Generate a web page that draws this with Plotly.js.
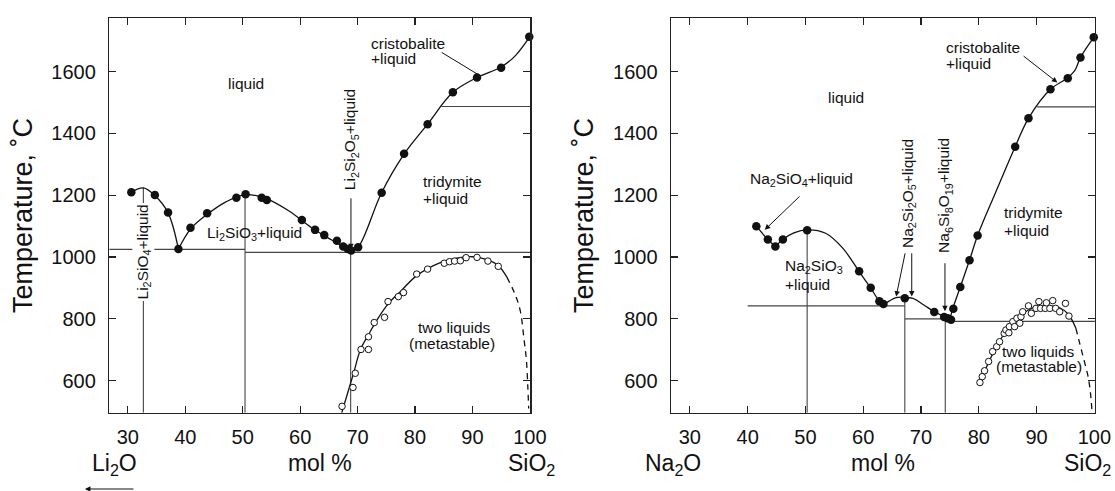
<!DOCTYPE html>
<html><head><meta charset="utf-8">
<script src="https://cdn.plot.ly/plotly-3.0.1.min.js"></script>
<style>html,body{margin:0;padding:0;background:#fff}#chart{width:1115px;height:491px}</style>
</head><body><div id="chart"></div>
<script>
// ---------- tick values ----------
const xTicks = [30, 40, 50, 60, 70, 80, 90, 100];
const yTicks = [600, 800, 1000, 1200, 1400, 1600];

// ---------- Li2O-SiO2 (left) ----------
const liLiqA_x = [30.6, 32.7, 34.7, 37.0, 38.8];
const liLiqA_y = [1210, 1224, 1199, 1143, 1026];
const liLiqB_x = [38.8, 41.0, 44.0, 47.0, 50.4, 54.0, 58.0, 62.0, 65.5, 68.8];
const liLiqB_y = [1026, 1093, 1141, 1178, 1202, 1190, 1150, 1095, 1055, 1020];
const liLiqC_x = [68.8, 70.1, 74.2, 78.1, 82.2, 86.6, 90.8, 95.0, 97.5, 100.0];
const liLiqC_y = [1020, 1032, 1209, 1333, 1430, 1533, 1581, 1615, 1652, 1713];
const liPts_x = [30.6, 34.7, 37.0, 38.8, 40.9, 43.8, 48.9, 50.5, 53.3, 54.2, 60.3, 62.6, 64.2, 66.4, 67.5, 68.3, 68.9, 70.1, 74.2, 78.1, 82.2, 86.6, 90.8, 95.0, 99.9];
const liPts_y = [1210, 1201, 1144, 1026, 1095, 1142, 1192, 1203, 1192, 1185, 1120, 1088, 1071, 1053, 1034, 1026, 1021, 1032, 1208, 1334, 1430, 1533, 1581, 1613, 1713];
const liImm_x = [67.3, 69.2, 69.6, 70.6, 71.9, 71.9, 72.9, 74.7, 75.3, 77.1, 78.0, 80.3, 82.2, 85.1, 86.0, 86.9, 87.9, 88.9, 90.8, 92.7, 94.5];
const liImm_y = [517, 578, 624, 701, 701, 742, 788, 805, 856, 872, 885, 945, 961, 980, 985, 987, 988, 998, 999, 987, 970];
const liDome_x = [67.25, 69.3, 70.5, 72.0, 73.5, 75.4, 77.7, 80.3, 84.4, 87.0, 90.0, 92.5, 94.5, 96.0];
const liDome_y = [496, 624, 700, 752, 800, 850, 893, 940, 982, 996, 1001, 992, 973, 935];
const liDomeDash_x = [96.0, 97.3, 98.3, 99.0, 99.4, 99.65, 99.8];
const liDomeDash_y = [935, 885, 829, 732, 667, 580, 510];
const liHor_x1 = [26.76, 50.4, 84.6];
const liHor_x2 = [50.4, 100.1, 100.1];
const liHor_y = [1025, 1015, 1487];
const liVer_x = [32.7, 50.4, 68.8];
const liVer_y1 = [496, 496, 496];
const liVer_y2 = [1224, 1203, 1020];

// ---------- Na2O-SiO2 (right) ----------
const naLiqA_x = [41.5, 43.5, 44.8];
const naLiqA_y = [1100, 1057, 1034];
const naLiqB_x = [44.8, 46.1, 48.0, 50.3, 53.5, 56.5, 59.3, 61.3, 62.8, 63.7];
const naLiqB_y = [1034, 1057, 1078, 1088, 1077, 1028, 953, 900, 858, 848];
const naLiqC_x = [63.7, 65.7, 67.2, 68.6, 70.5, 72.3, 74.2, 75.0];
const naLiqC_y = [848, 869, 870, 866, 845, 823, 806, 798];
const naLiqD_x = [75.0, 75.5, 76.8, 78.4, 79.8, 83.0, 86.3, 88.6, 92.4, 95.2, 96.6, 97.6, 99.9];
const naLiqD_y = [798, 833, 903, 990, 1070, 1213, 1357, 1449, 1543, 1578, 1603, 1646, 1711];
const naPts_x = [41.5, 43.5, 44.8, 46.1, 50.3, 59.3, 61.3, 62.8, 63.5, 67.2, 72.3, 74.0, 74.6, 75.2, 75.6, 76.8, 78.4, 79.8, 86.3, 88.6, 92.4, 95.4, 97.6, 99.9];
const naPts_y = [1100, 1057, 1034, 1057, 1087, 954, 901, 857, 848, 867, 822, 806, 802, 797, 833, 903, 990, 1070, 1357, 1449, 1543, 1579, 1646, 1711];
const naImm_x = [80.2, 80.6, 81.0, 81.7, 82.4, 83.1, 83.6, 84.4, 84.7, 85.2, 85.3, 85.9, 86.2, 86.6, 87.1, 87.3, 87.6, 88.6, 89.1, 89.9, 90.4, 90.7, 91.5, 91.7, 92.3, 92.8, 93.3, 94.0, 95.0, 95.6];
const naImm_y = [594, 613, 632, 662, 694, 710, 726, 753, 764, 755, 775, 791, 775, 802, 786, 807, 823, 842, 818, 834, 856, 834, 834, 852, 834, 859, 834, 823, 850, 809];
const naDome_x = [80.0, 81.0, 82.5, 84.0, 85.5, 87.0, 88.5, 90.0, 92.0, 94.0, 95.5, 96.8];
const naDome_y = [585, 630, 690, 740, 778, 808, 828, 840, 843, 836, 815, 770];
const naDomeDash_x = [96.8, 97.5, 98.3, 98.9, 99.3, 99.6];
const naDomeDash_y = [770, 718, 660, 615, 565, 500];
const naHor_x1 = [40.0, 67.2, 74.2, 90.1];
const naHor_x2 = [67.2, 74.2, 100.1, 100.1];
const naHor_y = [842, 800, 792, 1486];
const naVer_x = [50.3, 67.2, 74.2];
const naVer_y1 = [496, 496, 496];
const naVer_y2 = [1087, 867, 800];

// ---------- styling helpers ----------
const FONT = 'Liberation Sans, Arial, Helvetica, sans-serif';
const INK = '#111';
const traces = [];
function curve(x, y, xa, ya, dash) {
  traces.push({x, y, xaxis: xa, yaxis: ya, mode: 'lines', type: 'scatter',
    line: {color: INK, width: 1.3, shape: 'spline', smoothing: 1, dash: dash || 'solid'},
    hoverinfo: 'skip', showlegend: false});
}
function segs(xs1, xs2, ys1, ys2, xa, ya) {
  const x = [], y = [];
  for (let i = 0; i < xs1.length; i++) { x.push(xs1[i], xs2[i], null); y.push(ys1[i], ys2[i], null); }
  traces.push({x, y, xaxis: xa, yaxis: ya, mode: 'lines', type: 'scatter',
    line: {color: '#444', width: 1.1}, hoverinfo: 'skip', showlegend: false});
}
function pts(x, y, xa, ya, filled) {
  traces.push({x, y, xaxis: xa, yaxis: ya, mode: 'markers', type: 'scatter', cliponaxis: false,
    marker: filled ? {size: 8.5, color: INK, line: {width: 0}}
                   : {size: 6.5, color: '#fff', line: {color: INK, width: 1}},
    showlegend: false});
}

segs(liHor_x1, liHor_x2, liHor_y, liHor_y, 'x', 'y');
segs(liVer_x, liVer_x, liVer_y1, liVer_y2, 'x', 'y');
curve(liLiqA_x, liLiqA_y, 'x', 'y');
curve(liLiqB_x, liLiqB_y, 'x', 'y');
curve(liLiqC_x, liLiqC_y, 'x', 'y');
curve(liDome_x, liDome_y, 'x', 'y');
curve(liDomeDash_x, liDomeDash_y, 'x', 'y', '6px,5px');
pts(liImm_x, liImm_y, 'x', 'y', false);
pts(liPts_x, liPts_y, 'x', 'y', true);

segs(naHor_x1, naHor_x2, naHor_y, naHor_y, 'x2', 'y2');
segs(naVer_x, naVer_x, naVer_y1, naVer_y2, 'x2', 'y2');
curve(naLiqA_x, naLiqA_y, 'x2', 'y2');
curve(naLiqB_x, naLiqB_y, 'x2', 'y2');
curve(naLiqC_x, naLiqC_y, 'x2', 'y2');
curve(naLiqD_x, naLiqD_y, 'x2', 'y2');
curve(naDome_x, naDome_y, 'x2', 'y2');
curve(naDomeDash_x, naDomeDash_y, 'x2', 'y2', '6px,5px');
pts(naImm_x, naImm_y, 'x2', 'y2', false);
pts(naPts_x, naPts_y, 'x2', 'y2', true);

// ---------- annotations ----------
const LF = {family: FONT, size: 15.5, color: INK};
const ann = [];
function label(text, x, y, xr, yr, opts) {
  ann.push(Object.assign({text, x, y, xref: xr, yref: yr, showarrow: false, font: LF,
    xanchor: 'center', yanchor: 'middle'}, opts || {}));
}
function arrow(x, y, ax, ay, xr, yr, head) {
  ann.push({text: '', x, y, ax, ay, xref: xr, yref: yr, axref: xr, ayref: yr, showarrow: true,
    arrowhead: head === undefined ? 2 : head, arrowsize: 1.1, arrowwidth: 1, arrowcolor: INK,
    standoff: 0, startstandoff: 0});
}
label('liquid', 50.6, 1563, 'x', 'y');
label('Li<sub>2</sub>SiO<sub>3</sub>+liquid', 52.1, 1077, 'x', 'y');
label('tridymite', 81.0, 1243, 'x', 'y', {xanchor: 'left'});
label('+liquid', 81.0, 1191, 'x', 'y', {xanchor: 'left'});
label('cristobalite', 72.0, 1692, 'x', 'y', {xanchor: 'left'});
label('+liquid', 72.0, 1641, 'x', 'y', {xanchor: 'left'});
label('two liquids', 86.8, 773, 'x', 'y');
label('(metastable)', 86.5, 719, 'x', 'y');
label('Li<sub>2</sub>SiO<sub>4</sub>+liquid', 32.75, 1017, 'x', 'y', {textangle: -90, bgcolor: '#fff', borderpad: 1});
label('Li<sub>2</sub>Si<sub>2</sub>O<sub>5</sub>+liquid', 68.9, 1379, 'x', 'y', {textangle: -90});
arrow(68.85, 1025, 68.85, 1195, 'x', 'y');
arrow(91.05, 1590, 84.4, 1665, 'x', 'y', 0);

label('liquid', 57.0, 1515, 'x2', 'y2');
label('Na<sub>2</sub>SiO<sub>4</sub>+liquid', 49.4, 1250, 'x2', 'y2');
label('Na<sub>2</sub>SiO<sub>3</sub>', 46.2, 969, 'x2', 'y2', {xanchor: 'left'});
label('+liquid', 46.2, 910, 'x2', 'y2', {xanchor: 'left'});
label('cristobalite', 73.9, 1677, 'x2', 'y2', {xanchor: 'left'});
label('+liquid', 74.0, 1625, 'x2', 'y2', {xanchor: 'left'});
label('tridymite', 84.1, 1143, 'x2', 'y2', {xanchor: 'left'});
label('+liquid', 84.1, 1087, 'x2', 'y2', {xanchor: 'left'});
label('two liquids', 90.4, 696, 'x2', 'y2');
label('(metastable)', 90.4, 646, 'x2', 'y2');
label('Na<sub>2</sub>Si<sub>2</sub>O<sub>5</sub>+liquid', 67.8, 1205, 'x2', 'y2', {textangle: -90});
label('Na<sub>6</sub>Si<sub>8</sub>O<sub>19</sub>+liquid', 74.1, 1200, 'x2', 'y2', {textangle: -90});
arrow(42.96, 1088, 49.25, 1201, 'x2', 'y2');
arrow(65.7, 872, 67.3, 1017, 'x2', 'y2');
arrow(68.4, 872, 68.4, 1017, 'x2', 'y2');
arrow(74.15, 825, 74.15, 985, 'x2', 'y2');
arrow(93.6, 1565, 87.5, 1654, 'x2', 'y2');

const BF = {family: FONT, size: 23, color: INK};
label('Li<sub>2</sub>O', 0.0807, 0.053, 'paper', 'paper', {xanchor: 'left', font: BF});
label('SiO<sub>2</sub>', 0.4769, 0.053, 'paper', 'paper', {font: BF});
label('Na<sub>2</sub>O', 0.6036, 0.053, 'paper', 'paper', {font: BF});
label('SiO<sub>2</sub>', 0.9749, 0.053, 'paper', 'paper', {font: BF});
ann.push({text: '', x: 0.0762, y: 0.004, xref: 'paper', yref: 'paper', ax: 50, ay: 0,
  showarrow: true, arrowhead: 2, arrowsize: 1, arrowwidth: 1.1, arrowcolor: INK});

// ---------- axes ----------
function xax(domain, anchor) {
  return {domain, anchor, range: [26.76, 100.1], tickmode: 'array', tickvals: xTicks,
    ticks: 'inside', ticklen: 7, tickwidth: 1.2, tickcolor: '#222',
    showline: true, linecolor: '#222', linewidth: 1.5, mirror: 'ticks',
    showgrid: false, zeroline: false, ticklabelstandoff: 6,
    tickfont: {family: FONT, size: 20, color: INK},
    title: {text: 'mol %', font: {family: FONT, size: 23, color: INK}, standoff: 7}};
}
function yax(anchor) {
  return {domain: [0.1595, 0.9627], anchor, range: [496.4, 1772.6], tickmode: 'array', tickvals: yTicks,
    ticks: 'inside', ticklen: 7, tickwidth: 1.2, tickcolor: '#222',
    showline: true, linecolor: '#222', linewidth: 1.5, mirror: 'ticks',
    showgrid: false, zeroline: false, ticklabelstandoff: 8,
    tickfont: {family: FONT, size: 20, color: INK},
    title: {text: 'Temperature, ˚C', font: {family: FONT, size: 27, color: INK}, standoff: 11}};
}

const layout = {
  width: 1115, height: 491,
  margin: {l: 0, r: 0, t: 0, b: 0},
  paper_bgcolor: '#fff', plot_bgcolor: '#fff',
  showlegend: false,
  xaxis: xax([0.098, 0.4757], 'y'),
  yaxis: yax('x'),
  xaxis2: xax([0.6019, 0.982], 'y2'),
  yaxis2: yax('x2'),
  annotations: ann
};

Plotly.newPlot('chart', traces, layout, {staticPlot: true, displayModeBar: false});
</script></body></html>
